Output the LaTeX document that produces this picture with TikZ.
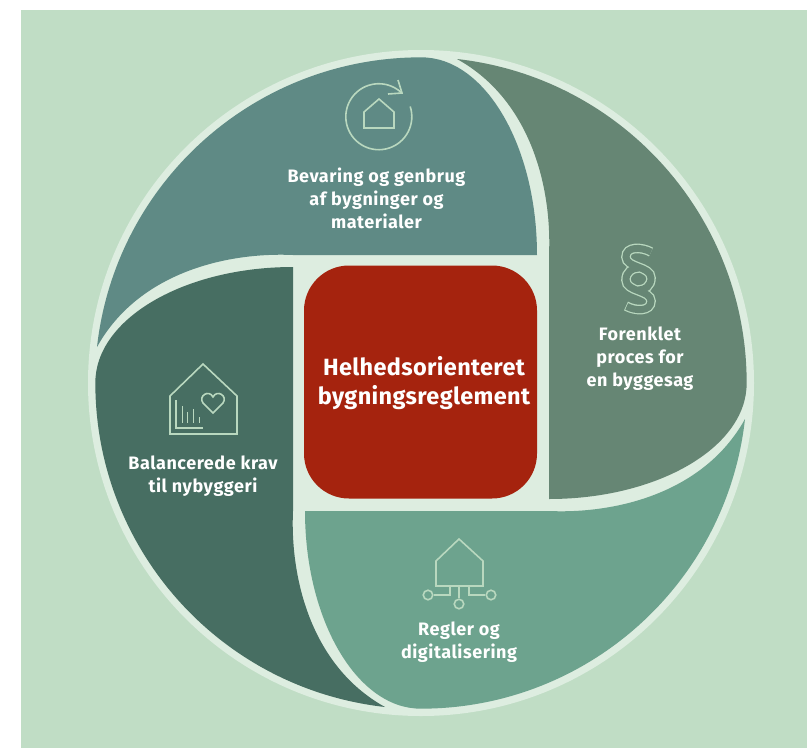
\documentclass[tikz,border=0pt]{standalone}
\usepackage{fontspec}
\setmainfont{Fira Sans}
\definecolor{bgreen}{HTML}{C0DDC5}
\definecolor{ringgreen}{HTML}{DDEDE0}
\definecolor{icongreen}{HTML}{B9D8BF}
\definecolor{topseg}{HTML}{5F8A85}
\definecolor{rightseg}{HTML}{668674}
\definecolor{bottomseg}{HTML}{6DA38E}
\definecolor{leftseg}{HTML}{476E62}
\definecolor{centerred}{HTML}{A5230E}
\newfontfamily\labelfont[LetterSpace=3,BoldFont={Fira Sans Bold}]{Fira Sans}
\newfontfamily\centerfont[LetterSpace=1.5,BoldFont={Fira Sans Bold}]{Fira Sans}
\tikzset{
  seglabel/.style={text=white, align=center, font=\labelfont\fontsize{18}{23}\selectfont\bfseries},
  iconline/.style={draw=icongreen, line width=1.6pt, line join=miter},
  icondot/.style={circle, iconline, minimum size=9.5pt, inner sep=0pt},
}
\newcommand{\segment}[2]{%
  \fill[#2, shift={(421,383)}, rotate=#1]
    (-324,-36) arc[start angle=173.6, end angle=90, radius=326pt]
    .. controls (64,-326) and (116,-237) .. (116,-128)
    -- (-128,-128)
    .. controls (-195,-131) and (-283,-110) .. (-324,-36) -- cycle;}
\newcommand{\sectionpath}{%
  (651,252) .. controls (642,247) and (626,246) .. (626,257)
  .. controls (626,268) and (651,266) .. (651,278)
  .. controls (651,286) and (645,290) .. (638.5,290)
  (626,306) .. controls (635,311) and (651,312) .. (651,301)
  .. controls (651,290) and (626,292) .. (626,280)
  .. controls (626,272) and (632,268) .. (638.5,268)}
\begin{document}
\begin{tikzpicture}[x=1pt,y=-1pt]
  \useasboundingbox (0,0) rectangle (807,748);
  \fill[bgreen] (21,10) rectangle (807,748);
  \fill[ringgreen] (421,383) circle[radius=333pt];

  \segment{0}{topseg}
  \segment{-90}{rightseg}
  \segment{-180}{bottomseg}
  \segment{-270}{leftseg}

  \node[fill=centerred, rounded corners=45pt, minimum size=233pt, inner sep=0pt] (center) at (420.5,382) {};
  \node[text=white, align=center, font=\centerfont\fontsize{23.5}{29}\selectfont\bfseries] (centertext) at (424,383.5) {Helhedsorienteret\\bygningsreglement};

  \node[seglabel] (toplabel) at (376.5,198.5) {Bevaring og genbrug\\af bygninger og\\materialer};
  \node[seglabel] (rightlabel) at (640,359) {Forenklet\\proces for\\en byggesag};
  \node[seglabel] (bottomlabel) at (459,642.5) {Regler og\\digitalisering};
  \node[seglabel] (leftlabel) at (203,476.5) {Balancerede krav\\til nybyggeri};

  % reuse icon
  \draw[iconline] (410.2,106.5) arc[start angle=18, end angle=-314, radius=33pt];
  \draw[iconline] (398,80) -- (402,93) -- (388,94);
  \draw[iconline] (379,99) -- (394,112) -- (394,128) -- (364,128) -- (364,112) -- cycle;

  % section icon
  \draw[icongreen, line width=9.6pt] \sectionpath;
  \draw[rightseg, line width=7pt, shorten <=0.8pt] \sectionpath;

  % house icon with chart and heart
  \draw[iconline] (203,364) -- (237,396) -- (237,434) -- (170,434) -- (170,396) -- cycle;
  \draw[iconline, line width=2.4pt] (176,400) -- (176,428) -- (203,428);
  \foreach \barx/\bartop in {182/406, 187/412, 193/409, 199/417}
    \draw[iconline, line width=1pt] (\barx,\bartop) -- (\barx,423);
  \draw[iconline] (213,413) -- (203,403)
    .. controls (198,396) and (209,389) .. (213,397)
    .. controls (217,389) and (228,396) .. (223,403) -- cycle;

  % network icon
  \draw[iconline] (459,539) -- (483,561) -- (483,586) -- (436,586) -- (436,561) -- cycle;
  \node[icondot] (nodeleft) at (428,595) {};
  \node[icondot] (nodemid) at (459,604) {};
  \node[icondot] (noderight) at (491,595) {};
  \draw[iconline] (450,586) |- (nodeleft);
  \draw[iconline] (459,586) -- (nodemid);
  \draw[iconline] (469,586) |- (noderight);
\end{tikzpicture}
\end{document}
